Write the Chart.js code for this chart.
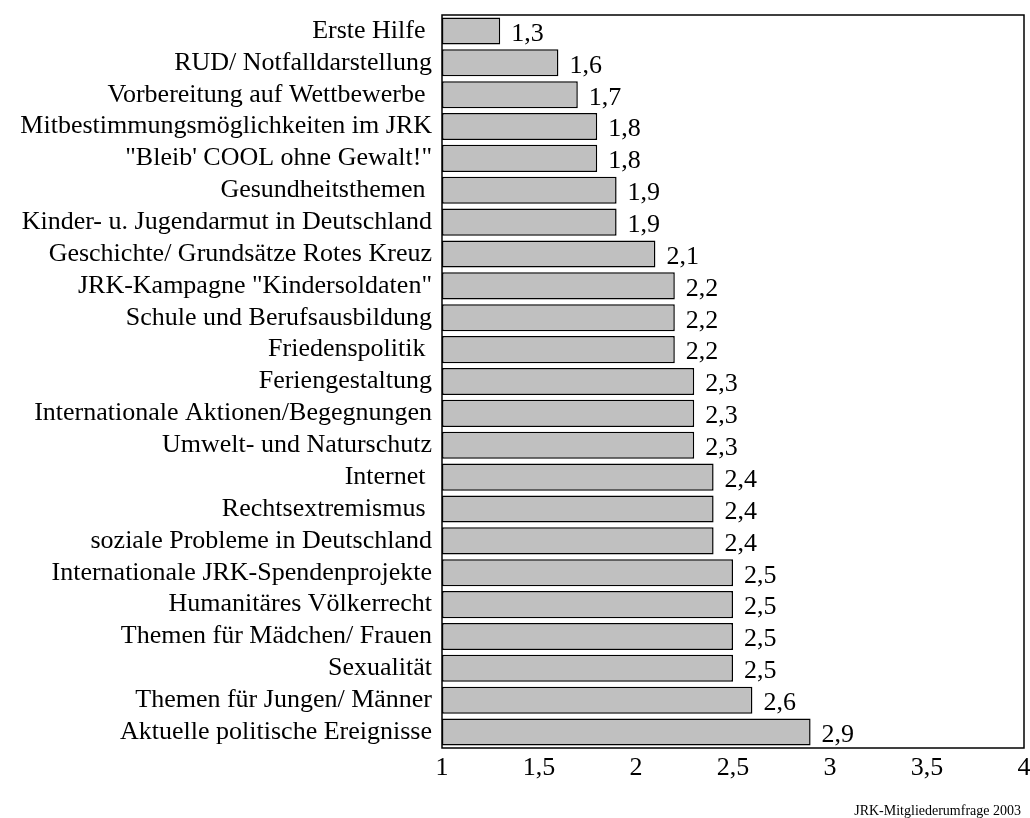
<!DOCTYPE html>
<html>
<head>
<meta charset="utf-8">
<script src="https://cdn.jsdelivr.net/npm/chart.js@4.4.1/dist/chart.umd.min.js"></script>
<style>
  html, body { margin: 0; padding: 0; background: #ffffff; }
  #wrap { position: relative; width: 1030px; height: 818px; }
</style>
</head>
<body>
<div id="wrap"><canvas id="c" width="1030" height="818"></canvas></div>
<script>
const categories = [
  "Erste Hilfe ",
  "RUD/ Notfalldarstellung",
  "Vorbereitung auf Wettbewerbe ",
  "Mitbestimmungsmöglichkeiten im JRK",
  "\"Bleib' COOL ohne Gewalt!\"",
  "Gesundheitsthemen ",
  "Kinder- u. Jugendarmut in Deutschland",
  "Geschichte/ Grundsätze Rotes Kreuz",
  "JRK-Kampagne \"Kindersoldaten\"",
  "Schule und Berufsausbildung",
  "Friedenspolitik ",
  "Feriengestaltung",
  "Internationale Aktionen/Begegnungen",
  "Umwelt- und Naturschutz",
  "Internet ",
  "Rechtsextremismus ",
  "soziale Probleme in Deutschland",
  "Internationale JRK-Spendenprojekte",
  "Humanitäres Völkerrecht",
  "Themen für Mädchen/ Frauen",
  "Sexualität",
  "Themen für Jungen/ Männer",
  "Aktuelle politische Ereignisse"
];
const values = [1.3, 1.6, 1.7, 1.8, 1.8, 1.9, 1.9, 2.1, 2.2, 2.2, 2.2, 2.3, 2.3, 2.3, 2.4, 2.4, 2.4, 2.5, 2.5, 2.5, 2.5, 2.6, 2.9];
const xTicks = [1, 1.5, 2, 2.5, 3, 3.5, 4];
const footerText = "JRK-Mitgliederumfrage 2003";

const FONT = "'Liberation Serif', 'Times New Roman', serif";
const fmt = v => String(v).replace('.', ',');

const boxPlugin = {
  id: 'box',
  afterDatasetsDraw(chart) {
    const { ctx, chartArea: a } = chart;
    ctx.save();
    ctx.strokeStyle = '#000';
    ctx.lineWidth = 1.5;
    ctx.strokeRect(a.left, a.top, a.right - a.left, a.bottom - a.top);
    ctx.restore();
  }
};

const valueLabels = {
  id: 'valueLabels',
  afterDatasetsDraw(chart) {
    const { ctx } = chart;
    const meta = chart.getDatasetMeta(0);
    ctx.save();
    ctx.font = '26px ' + FONT;
    ctx.fillStyle = '#000';
    ctx.textAlign = 'left';
    ctx.textBaseline = 'middle';
    meta.data.forEach((bar, i) => {
      ctx.fillText(fmt(values[i]), bar.x + 11, bar.y + 3);
    });
    ctx.restore();
  }
};

const footerPlugin = {
  id: 'footerText',
  afterDraw(chart) {
    const { ctx } = chart;
    ctx.save();
    ctx.font = '14px ' + FONT;
    ctx.fillStyle = '#000';
    ctx.textAlign = 'right';
    ctx.textBaseline = 'alphabetic';
    ctx.fillText(footerText, 1021, 815);
    ctx.restore();
  }
};

new Chart(document.getElementById('c'), {
  type: 'bar',
  data: {
    labels: categories,
    datasets: [{
      data: values,
      base: 1,
      backgroundColor: '#c0c0c0',
      borderColor: '#000',
      borderWidth: 1.5,
      borderSkipped: false,
      barPercentage: 0.85,
      categoryPercentage: 1.0
    }]
  },
  options: {
    indexAxis: 'y',
    responsive: false,
    animation: false,
    devicePixelRatio: 1,
    layout: { padding: { left: 0, right: 6, top: 15, bottom: 25 } },
    plugins: {
      legend: { display: false },
      tooltip: { enabled: false }
    },
    scales: {
      x: {
        type: 'linear',
        min: 1,
        max: 4,
        afterBuildTicks(scale) { scale.ticks = xTicks.map(v => ({ value: v })); },
        afterFit(scale) { scale.height = 45; scale.paddingLeft = 0; scale.paddingRight = 0; },
        grid: { display: false, drawTicks: false },
        border: { display: false },
        ticks: {
          color: '#000',
          padding: 5,
          font: { family: FONT, size: 26 },
          callback: v => fmt(v)
        }
      },
      y: {
        afterFit(scale) { scale.width = 442; scale.paddingTop = 0; scale.paddingBottom = 0; },
        grid: { display: false, drawTicks: false },
        border: { display: false },
        ticks: {
          color: '#000',
          padding: 10,
          autoSkip: false,
          font: { family: FONT, size: 26 }
        }
      }
    }
  },
  plugins: [boxPlugin, valueLabels, footerPlugin]
});
</script>
</body>
</html>
